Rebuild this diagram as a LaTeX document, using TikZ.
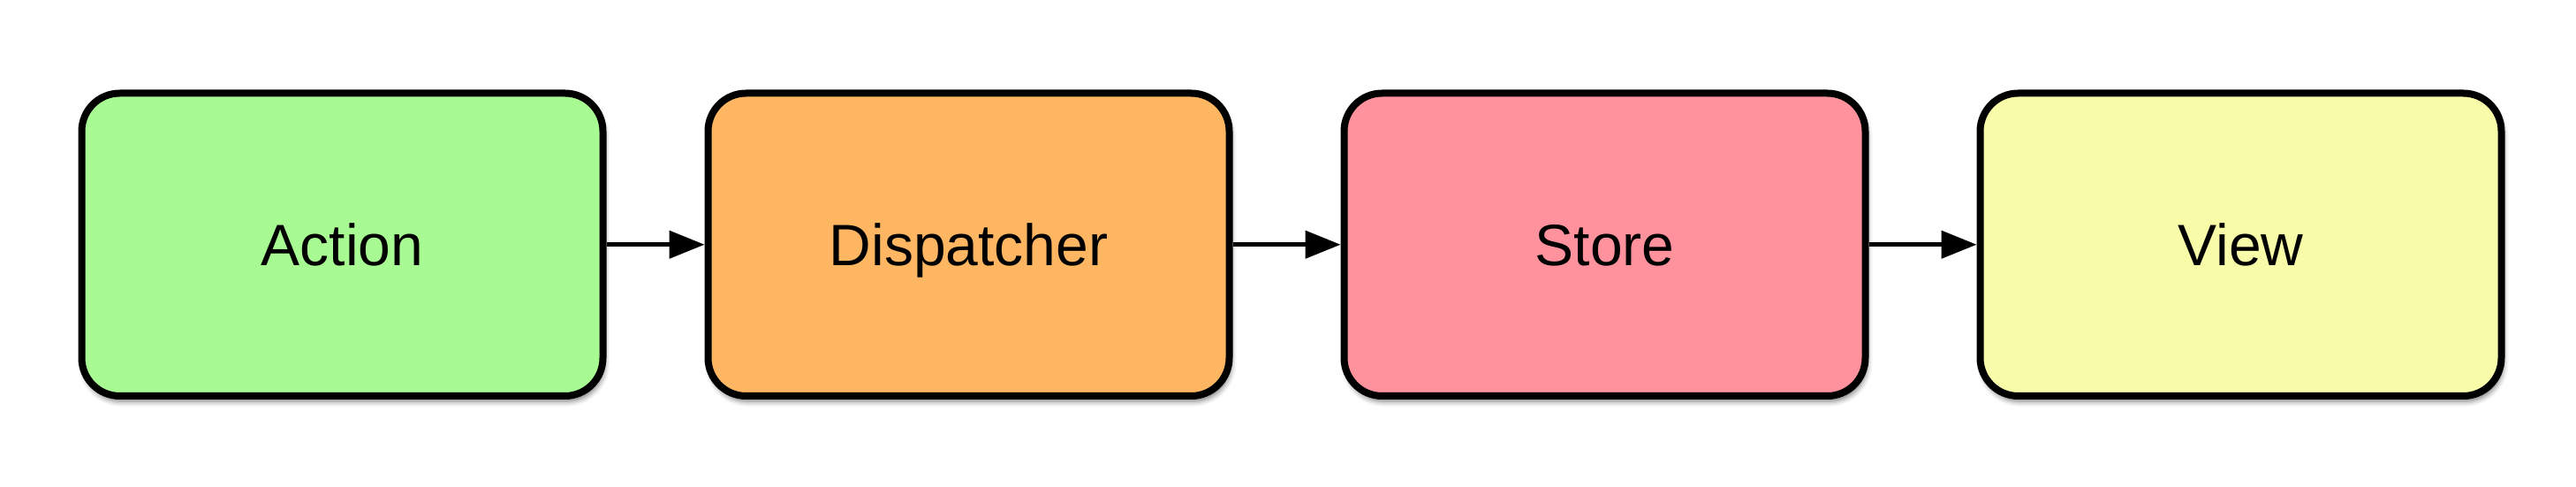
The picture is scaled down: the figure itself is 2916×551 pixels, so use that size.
\documentclass[tikz,border=0pt]{standalone}
\usepackage{fontspec}
\setmainfont{Liberation Sans}
\usetikzlibrary{arrows.meta,shadows.blur}
\definecolor{cAction}{HTML}{A8FB93}
\definecolor{cDisp}{HTML}{FEB662}
\definecolor{cStore}{HTML}{FF929C}
\definecolor{cView}{HTML}{F8FBA7}
\tikzset{
  flowbox/.style={draw=black, line width=8pt, rounded corners=43pt,
    minimum width=590pt, minimum height=342.5pt, inner sep=0pt,
    font=\fontsize{66}{79}\selectfont, text height=47.3pt, text depth=0pt,
    blur shadow={shadow xshift=2pt, shadow yshift=-6pt, shadow blur radius=6pt, shadow opacity=55}},
  flowarrow/.style={line width=4.5pt, -{Triangle[length=40pt,width=31pt]}}
}
\begin{document}
\begin{tikzpicture}[x=1pt,y=1pt]
\useasboundingbox (0,0) rectangle (2916,551);
\node[flowbox, fill=cAction] (action) at (387.5,274.25) {Action};
\node[flowbox, fill=cDisp]   (disp)   at (1096.5,274.25) {Dispatcher};
\node[flowbox, fill=cStore]  (store)  at (1816.5,274.25) {Store};
\node[flowbox, fill=cView]   (view)   at (2536.5,274.25) {View};
\draw[flowarrow] (action.east) -- (disp.west);
\draw[flowarrow] (disp.east) -- (store.west);
\draw[flowarrow] (store.east) -- (view.west);
\end{tikzpicture}
\end{document}
